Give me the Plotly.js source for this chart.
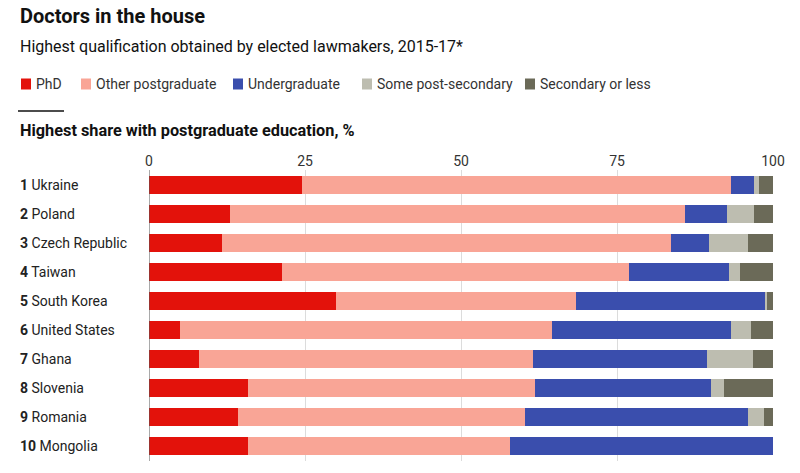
<!DOCTYPE html>
<html><head><meta charset="utf-8">
<script src="https://cdn.plot.ly/plotly-3.0.1.min.js"></script>
<style>html,body{margin:0;padding:0;background:#fff}#chart{width:800px;height:473px}</style>
</head><body><div id="chart"></div>
<script>
const countries = ["Ukraine","Poland","Czech Republic","Taiwan","South Korea","United States","Ghana","Slovenia","Romania","Mongolia"];
const ranks = [1,2,3,4,5,6,7,8,9,10];
const phd =          [24.5, 12.9, 11.7, 21.3, 30.0,  5.0,  8.0, 15.8, 14.3, 15.8];
const otherPost =    [68.8, 73.0, 72.0, 55.7, 38.4, 59.6, 53.5, 46.0, 46.0, 42.1];
const undergrad =    [ 3.7,  6.8,  6.1, 16.0, 30.3, 28.6, 28.0, 28.2, 35.7, 42.1];
const somePost =     [ 0.8,  4.3,  6.2,  1.7,  0.4,  3.2,  7.3,  2.2,  2.5,  0.0];
const secondary =    [ 2.2,  3.0,  4.0,  5.3,  0.9,  3.6,  3.2,  7.8,  1.5,  0.0];
const seriesNames = ["PhD","Other postgraduate","Undergraduate","Some post-secondary","Secondary or less"];
const xTicks = [0,25,50,75,100];

const colors = ["#e3120b","#f9a596","#3a4ead","#bdbdb0","#6b6a58"];
const seriesData = [phd, otherPost, undergrad, somePost, secondary];

const W = 800, H = 473;
const M = {l:149, r:27, t:170, b:12};
const pw = W - M.l - M.r, ph = H - M.t - M.b;
const px = x => (x - M.l) / pw;
const py = y => (H - M.b - y) / ph;
const FONT = "Roboto, 'Noto Sans', sans-serif";

const traces = seriesData.map((vals, i) => ({
  type: "bar", orientation: "h",
  x: vals, y: countries, name: seriesNames[i],
  marker: {color: colors[i], line: {width: 0}},
  hoverinfo: "x+name", showlegend: false
}));

const annotations = [
  {text: "<b>Doctors in the house</b>", x: px(18), y: py(16), font: {size: 20, color: "#111"}},
  {text: "Highest qualification obtained by elected lawmakers, 2015-17*", x: px(18), y: py(47), font: {size: 16, color: "#111"}},
  {text: "<b>Highest share with postgraduate education, %</b>", x: px(18), y: py(130), font: {size: 16.3, color: "#111"}}
].map(a => Object.assign({xref: "paper", yref: "paper", xanchor: "left", yanchor: "middle", showarrow: false}, a));

// legend
const legendX = [21, 81, 233, 362, 525];
const shapes = [];
seriesNames.forEach((n, i) => {
  shapes.push({type: "rect", xref: "paper", yref: "paper",
    x0: px(legendX[i]), x1: px(legendX[i] + 10), y0: py(89.5), y1: py(78.5),
    fillcolor: colors[i], line: {width: 0}});
  annotations.push({text: n, xref: "paper", yref: "paper", x: px(legendX[i] + 13), y: py(84),
    xanchor: "left", yanchor: "middle", showarrow: false, font: {size: 14, color: "#333"}});
});
shapes.push({type: "line", xref: "paper", yref: "paper", x0: px(18), x1: px(64), y0: py(111), y1: py(111),
  line: {color: "#111", width: 1.5}});
// zero axis line
shapes.push({type: "line", xref: "x", yref: "paper", x0: 0, x1: 0, y0: 0, y1: 1, line: {color: "#555", width: 1}});

countries.forEach((c, i) => {
  annotations.push({text: "<b>" + ranks[i] + "</b> " + c, xref: "paper", yref: "y", x: px(18), y: c,
    xanchor: "left", yanchor: "middle", showarrow: false, font: {size: 14, color: "#222"}});
});

const layout = {
  width: W, height: H, margin: M, barmode: "stack", bargap: 0.38,
  paper_bgcolor: "#fff", plot_bgcolor: "#fff",
  font: {family: FONT, color: "#333"},
  xaxis: {range: [0, 100], side: "top", tickvals: xTicks, ticktext: xTicks.map(String),
    showgrid: true, gridcolor: "#dcdcdc", gridwidth: 1, zeroline: false, showline: false,
    ticks: "", tickfont: {size: 14, color: "#333"}, fixedrange: true},
  yaxis: {autorange: "reversed", showticklabels: false, showgrid: false, zeroline: false, ticks: "", fixedrange: true},
  annotations: annotations, shapes: shapes, showlegend: false
};

Plotly.newPlot("chart", traces, layout, {displayModeBar: false, staticPlot: true});
</script></body></html>
